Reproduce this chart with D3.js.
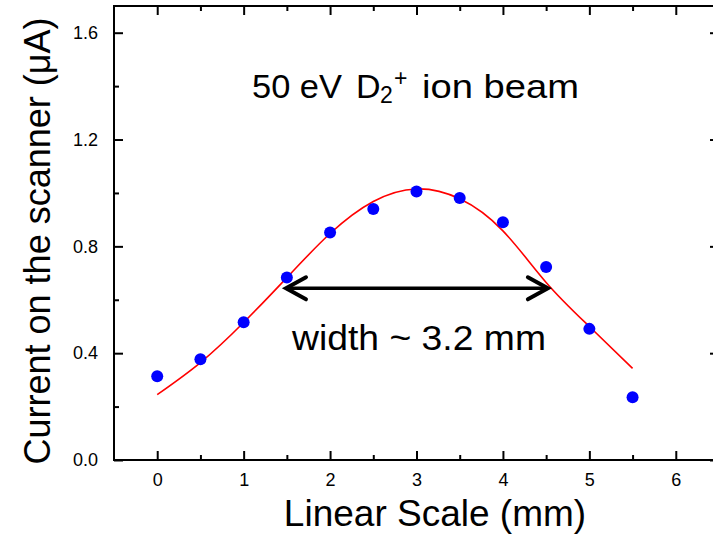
<!DOCTYPE html>
<html>
<head>
<meta charset="utf-8">
<script src="https://cdn.jsdelivr.net/npm/d3@7"></script>
<style>
  body { margin: 0; background: #fff; }
  text { font-family: "Liberation Sans", Arial, sans-serif; fill: #000; white-space: pre; }
</style>
</head>
<body>
<div id="chart"></div>
<script>
var width = 713;
var height = 535;

// measured beam current (blue dots)
var positions = [0, 0.5, 1, 1.5, 2, 2.5, 3, 3.5, 4, 4.5, 5, 5.5];
var current = [0.314, 0.377, 0.516, 0.683, 0.852, 0.940, 1.005, 0.981, 0.890, 0.723, 0.491, 0.235];

// fitted curve (red)
var fitX = [0, 0.5, 1, 1.5, 2, 2.5, 3, 3.5, 4, 4.5, 5, 5.5];
var fitY = [0.245, 0.365, 0.515, 0.683, 0.848, 0.968, 1.015, 0.978, 0.858, 0.665, 0.500, 0.343];

// ticks
var xMajor = [0, 1, 2, 3, 4, 5, 6];
var xMinor = [0.5, 1.5, 2.5, 3.5, 4.5, 5.5, 6.5];
var yMajor = [0, 0.4, 0.8, 1.2, 1.6];
var yMinor = [0.2, 0.6, 1.0, 1.4];

// FWHM arrow in data units
var arrowX = [1.49, 4.52];
var arrowY = 0.643;

var xScale = d3.scaleLinear().domain([-0.5, 6.5]).range([114, 719]);
var yScale = d3.scaleLinear().domain([0, 1.7]).range([460, 6]);

var svg = d3.select("#chart")
    .append("svg")
    .attr("width", width)
    .attr("height", height);

// axes: inward ticks, on all four sides
function styleAxis(g) {
    g.attr("font-size", 18).attr("font-family", "Liberation Sans, Arial, sans-serif");
    g.select(".domain").remove();
    g.selectAll("line").attr("stroke", "#000").attr("stroke-width", 2);
    g.selectAll("text").attr("fill", "#000");
}

svg.append("g")
    .attr("transform", "translate(0,460)")
    .call(d3.axisBottom(xScale).tickValues(xMajor).tickSize(-9).tickPadding(13).tickFormat(d3.format("d")))
    .call(styleAxis);
svg.append("g")
    .attr("transform", "translate(0,460)")
    .call(d3.axisBottom(xScale).tickValues(xMinor).tickSize(-5).tickFormat(""))
    .call(styleAxis);
svg.append("g")
    .attr("transform", "translate(0,6)")
    .call(d3.axisTop(xScale).tickValues(xMajor).tickSize(-9).tickFormat(""))
    .call(styleAxis);
svg.append("g")
    .attr("transform", "translate(0,6)")
    .call(d3.axisTop(xScale).tickValues(xMinor).tickSize(-5).tickFormat(""))
    .call(styleAxis);

svg.append("g")
    .attr("transform", "translate(114,0)")
    .call(d3.axisLeft(yScale).tickValues(yMajor).tickSize(-9).tickPadding(16).tickFormat(d3.format(".1f")))
    .call(styleAxis);
svg.append("g")
    .attr("transform", "translate(114,0)")
    .call(d3.axisLeft(yScale).tickValues(yMinor).tickSize(-5).tickFormat(""))
    .call(styleAxis);
svg.append("g")
    .attr("transform", "translate(719,0)")
    .call(d3.axisRight(yScale).tickValues(yMajor).tickSize(-9).tickFormat(""))
    .call(styleAxis);
svg.append("g")
    .attr("transform", "translate(719,0)")
    .call(d3.axisRight(yScale).tickValues(yMinor).tickSize(-5).tickFormat(""))
    .call(styleAxis);

// frame
svg.append("rect")
    .attr("x", xScale(-0.5))
    .attr("y", yScale(1.7))
    .attr("width", xScale(6.5) - xScale(-0.5))
    .attr("height", yScale(0) - yScale(1.7))
    .attr("fill", "none")
    .attr("stroke", "#000")
    .attr("stroke-width", 2);

// fit curve
var line = d3.line()
    .x(function(d, i) { return xScale(fitX[i]); })
    .y(function(d) { return yScale(d); })
    .curve(d3.curveNatural);

svg.append("path")
    .datum(fitY)
    .attr("d", line)
    .attr("fill", "none")
    .attr("stroke", "#ff0000")
    .attr("stroke-width", 1.6);

// data points
svg.selectAll("circle.pt")
    .data(current)
    .enter()
    .append("circle")
    .attr("class", "pt")
    .attr("cx", function(d, i) { return xScale(positions[i]); })
    .attr("cy", function(d) { return yScale(d); })
    .attr("r", 6)
    .attr("fill", "#0000ff");

// double headed arrow
var ax1 = xScale(arrowX[0]), ax2 = xScale(arrowX[1]), ay = yScale(arrowY);
svg.append("line")
    .attr("x1", ax1 + 2).attr("x2", ax2 - 2)
    .attr("y1", ay).attr("y2", ay)
    .attr("stroke", "#000").attr("stroke-width", 3.5);
svg.append("path")
    .attr("d", "M" + (ax1 + 20) + "," + (ay - 11) + "L" + ax1 + "," + ay + "L" + (ax1 + 20) + "," + (ay + 11))
    .attr("fill", "none").attr("stroke", "#000").attr("stroke-width", 4)
    .attr("stroke-linecap", "round");
svg.append("path")
    .attr("d", "M" + (ax2 - 20) + "," + (ay - 11) + "L" + ax2 + "," + ay + "L" + (ax2 - 20) + "," + (ay + 11))
    .attr("fill", "none").attr("stroke", "#000").attr("stroke-width", 4)
    .attr("stroke-linecap", "round");

// labels
svg.append("text")
    .attr("x", 292)
    .attr("y", 350)
    .attr("font-size", 35)
    .attr("textLength", 254)
    .attr("lengthAdjust", "spacingAndGlyphs")
    .text("width ~ 3.2 mm");

var title = svg.append("text")
    .attr("y", 98)
    .attr("font-size", 34);
title.append("tspan").attr("x", 252).attr("textLength", 90).attr("lengthAdjust", "spacingAndGlyphs").text("50 eV");
title.append("tspan").attr("x", 356).text("D");
title.append("tspan").attr("x", 380).attr("dy", 5).attr("font-size", 23).text("2");
title.append("tspan").attr("x", 394).attr("dy", -17).attr("font-size", 23).text("+");
title.append("tspan").attr("x", 422).attr("dy", 12).attr("textLength", 157).attr("lengthAdjust", "spacingAndGlyphs").text("ion beam");

svg.append("text")
    .attr("x", 435)
    .attr("y", 526)
    .attr("text-anchor", "middle")
    .attr("font-size", 37)
    .text("Linear Scale (mm)");

svg.append("text")
    .attr("transform", "translate(50,241) rotate(-90)")
    .attr("text-anchor", "middle")
    .attr("font-size", 36)
    .text("Current on the scanner (\u03bcA)");
</script>
</body>
</html>
